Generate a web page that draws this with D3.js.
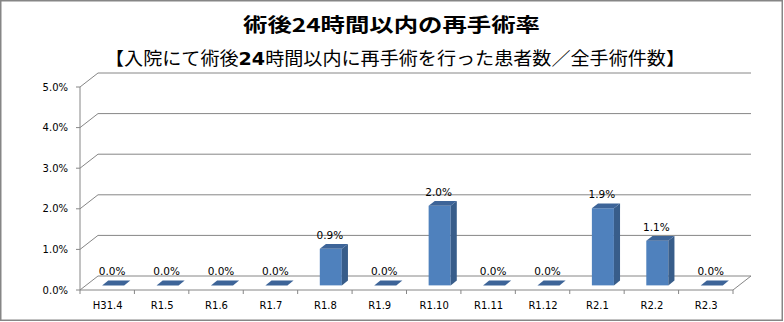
<!DOCTYPE html>
<html><head><meta charset="utf-8">
<script src="https://cdn.jsdelivr.net/npm/d3@7"></script>
<style>body{margin:0;background:#fff}svg{display:block}</style>
</head><body>
<script>
const categories = ["H31.4","R1.5","R1.6","R1.7","R1.8","R1.9","R1.10","R1.11","R1.12","R2.1","R2.2","R2.3"];
const values = [0, 0, 0, 0, 0.9, 0, 1.96, 0, 0, 1.9, 1.1, 0];
const yTicks = [0, 1, 2, 3, 4, 5];
const titleText = "術後24時間以内の再手術率";
const subtitleParts = ["【入院にて術後", "24", "時間以内に再手術を行った患者数／全手術件数】"];

const W = 784, H = 322;
const svg = d3.select("body").append("svg").attr("width", W).attr("height", H);
svg.append("rect").attr("width", W).attr("height", H).attr("fill", "#fff");
svg.append("rect").attr("x", 0.75).attr("y", 0.75).attr("width", 781.5).attr("height", 319.5)
  .attr("fill", "none").attr("stroke", "#868686").attr("stroke-width", 1.5);

// titles
svg.append("text").attr("x", 391.5).attr("y", 32).attr("text-anchor", "middle")
  .attr("font-family", "'Noto Sans CJK JP'").attr("font-weight", "bold").attr("font-size", 19)
  .attr("textLength", 297).attr("lengthAdjust", "spacingAndGlyphs").attr("fill", "#000")
  .text(titleText);
const st = svg.append("text").attr("x", 395).attr("y", 65).attr("text-anchor", "middle")
  .attr("font-family", "'Noto Sans CJK JP'").attr("font-size", 18)
  .attr("textLength", 580).attr("lengthAdjust", "spacingAndGlyphs").attr("fill", "#000");
subtitleParts.forEach((p, i) => {
  const t = st.append("tspan").text(p);
  if (i === 1) t.attr("font-weight", "bold").attr("font-family", "'DejaVu Sans'");
});

const x0 = 80, x1 = 733;
const DX = 18, DY = -14;
const x = d3.scaleBand().domain(categories).range([x0, x1]).padding(0);
const y = d3.scaleLinear().domain([0, 5]).range([290, 87]);
const grid = "#868686";

// walls & gridlines
const g = svg.append("g").attr("stroke", grid).attr("stroke-width", 1).attr("fill", "none");
yTicks.forEach(t => {
  const yy = y(t);
  g.append("line").attr("x1", x0).attr("y1", yy).attr("x2", x0 + DX).attr("y2", yy + DY);
  g.append("line").attr("x1", x0 + DX).attr("y1", yy + DY).attr("x2", x1 + DX).attr("y2", yy + DY);
  g.append("line").attr("x1", x0 - 4).attr("y1", yy).attr("x2", x0).attr("y2", yy);
});
// floor right edge
g.append("line").attr("x1", x1).attr("y1", y(0)).attr("x2", x1 + DX).attr("y2", y(0) + DY);
// axes
g.append("line").attr("x1", x0).attr("y1", y(0)).attr("x2", x0).attr("y2", y(5));
g.append("line").attr("x1", x0).attr("y1", y(0)).attr("x2", x1).attr("y2", y(0));
categories.forEach((c, i) => {
  const xx = x(c);
  g.append("line").attr("x1", xx).attr("y1", y(0)).attr("x2", xx).attr("y2", y(0) + 4);
});
g.append("line").attr("x1", x1).attr("y1", y(0)).attr("x2", x1).attr("y2", y(0) + 4);

// y labels
svg.append("g").selectAll("text").data(yTicks).join("text")
  .attr("x", 68).attr("y", d => y(d) + 3.5).attr("text-anchor", "end")
  .attr("font-family", "'DejaVu Sans'").attr("font-size", 10).attr("fill", "#000")
  .text(d => d.toFixed(1) + "%");

// x labels
svg.append("g").selectAll("text").data(categories).join("text")
  .attr("x", d => x(d) + x.bandwidth() / 2 + 0.5).attr("y", 308.5).attr("text-anchor", "middle")
  .attr("font-family", "'DejaVu Sans'").attr("font-size", 10).attr("fill", "#000")
  .text(d => d);

// bars
const f0 = 0.33, f1 = 0.67;
const bw = x.bandwidth() * 0.405;
const ddx = (f1 - f0) * DX, ddy = (f1 - f0) * DY;
const bars = svg.append("g");
categories.forEach((c, i) => {
  const v = values[i];
  const cx = x(c) + x.bandwidth() / 2 + f0 * DX;
  const bx0 = cx - bw / 2, bx1 = cx + bw / 2;
  const yb = y(0) + f0 * DY, yt = y(v) + f0 * DY;
  if (v > 0) {
    bars.append("rect").attr("x", bx0).attr("y", yt).attr("width", bw).attr("height", yb - yt)
      .attr("fill", "#4F81BD");
    bars.append("polygon").attr("points", [[bx1, yt], [bx1 + ddx, yt + ddy], [bx1 + ddx, yb + ddy], [bx1, yb]].map(p => p.join(",")).join(" "))
      .attr("fill", "#385D8A");
  }
  bars.append("polygon").attr("points", [[bx0, yt], [bx1, yt], [bx1 + ddx, yt + ddy], [bx0 + ddx, yt + ddy]].map(p => p.join(",")).join(" "))
    .attr("fill", "#3D6498");
  bars.append("text").attr("x", cx - 1).attr("y", yt - 10).attr("text-anchor", "middle")
    .attr("font-family", "'DejaVu Sans'").attr("font-size", 10.5).attr("fill", "#000")
    .text(v.toFixed(1) + "%");
});
</script>
</body></html>
